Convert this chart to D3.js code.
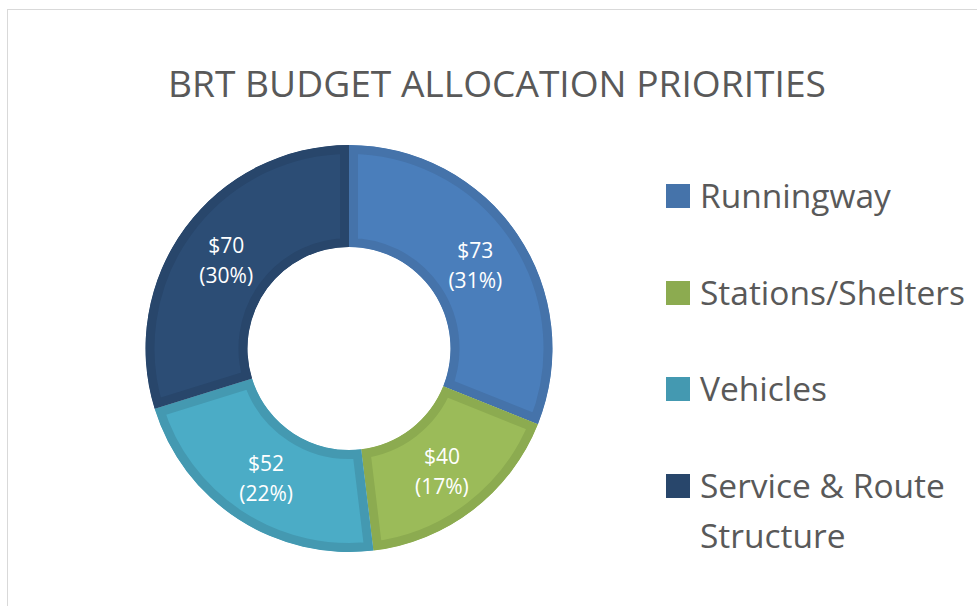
<!DOCTYPE html>
<html>
<head>
<meta charset="utf-8">
<script src="https://cdn.jsdelivr.net/npm/d3@7"></script>
<style>
  html, body { margin: 0; padding: 0; background: #fff; }
  svg { display: block; }
  text { font-family: "Open Sans", "Noto Sans", sans-serif; }
</style>
</head>
<body>
<svg id="chart" width="977" height="606"></svg>
<script>
// Budget allocation data ($ millions)
const categories = ["Runningway", "Stations/Shelters", "Vehicles", "Service & Route Structure"];
const values = [73, 40, 52, 70];
const fillColors = ["#4a7ebb", "#9bbb59", "#4bacc6", "#2c4d75"];
const edgeColors = ["#4573aa", "#8cab50", "#4499b1", "#28466b"];
const title = "BRT BUDGET ALLOCATION PRIORITIES";

const svg = d3.select("#chart");
const W = 977, H = 606;

// chart frame
svg.append("rect")
  .attr("x", 7.5).attr("y", 9.5)
  .attr("width", W + 10).attr("height", H + 10)
  .attr("fill", "#fff").attr("stroke", "#d9d9d9").attr("stroke-width", 1);

// title, sized to its box
const titleText = svg.append("text")
  .attr("x", 497).attr("y", 97)
  .attr("text-anchor", "middle")
  .attr("fill", "#595959")
  .attr("font-size", 36)
  .text(title);
{
  const w = titleText.node().getComputedTextLength();
  titleText.attr("font-size", 36 * 658 / w);
}

// donut
const cx = 349, cy = 348.5, outerR = 203.5, innerR = 101.5;
const pie = d3.pie().sort(null).value(d => d.value)(
  categories.map((c, i) => ({ name: c, value: values[i], i }))
);
const total = d3.sum(values);
const arc = d3.arc().innerRadius(innerR).outerRadius(outerR);

const g = svg.append("g").attr("transform", `translate(${cx},${cy})`);
const defs = svg.append("defs");

pie.forEach((d, k) => {
  defs.append("clipPath").attr("id", "slice-clip-" + k)
    .append("path").attr("d", arc(d));
});

g.selectAll("path.slice")
  .data(pie)
  .join("path")
  .attr("class", "slice")
  .attr("d", arc)
  .attr("fill", d => fillColors[d.data.i])
  .attr("stroke", d => edgeColors[d.data.i])
  .attr("stroke-width", 18)
  .attr("stroke-linejoin", "miter")
  .attr("clip-path", (d, k) => `url(#slice-clip-${k})`);

// value labels
const labels = g.selectAll("g.lbl")
  .data(pie)
  .join("g")
  .attr("class", "lbl")
  .attr("transform", d => {
    const [x, y] = arc.centroid(d);
    return `translate(${x},${y})`;
  });
labels.append("text")
  .attr("text-anchor", "middle")
  .attr("y", -5)
  .attr("fill", "#fff")
  .attr("font-size", 21)
  .text(d => "$" + d.data.value);
labels.append("text")
  .attr("text-anchor", "middle")
  .attr("y", 25)
  .attr("fill", "#fff")
  .attr("font-size", 21)
  .text(d => "(" + Math.round(d.data.value / total * 100) + "%)");

// legend
const legendY = [208, 305, 401, 498];
const legend = svg.append("g");
const lgSize = 33;
categories.forEach((c, i) => {
  legend.append("rect")
    .attr("x", 666).attr("y", legendY[i] - 24)
    .attr("width", 24).attr("height", 24)
    .attr("fill", edgeColors[i]);
});
const legendText = legend.selectAll("text")
  .data(categories)
  .join("text")
  .attr("x", 700)
  .attr("y", (d, i) => legendY[i])
  .attr("fill", "#595959")
  .attr("font-size", lgSize);
legendText.each(function (d) {
  const t = d3.select(this);
  if (d === "Service & Route Structure") {
    t.append("tspan").attr("x", 700).text("Service & Route");
    t.append("tspan").attr("x", 700).attr("dy", 50).text("Structure");
  } else {
    t.text(d);
  }
});
{
  const ref = legendText.filter(d => d === "Stations/Shelters").node();
  const w = ref.getComputedTextLength();
  legendText.attr("font-size", lgSize * 265 / w);
}
</script>
</body>
</html>
